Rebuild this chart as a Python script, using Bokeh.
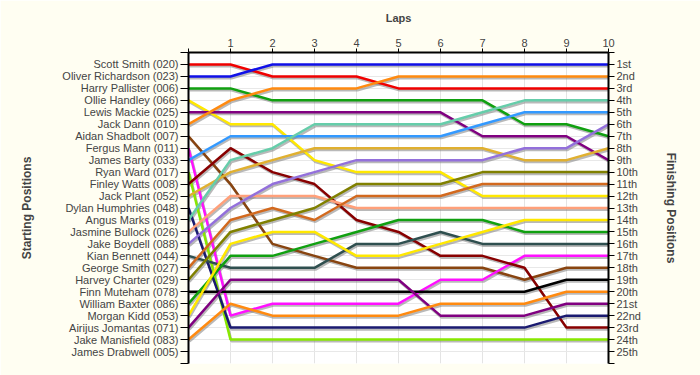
from bokeh.plotting import figure
from bokeh.models import Range1d, FixedTicker, LinearAxis
from bokeh.embed import file_html
from bokeh.resources import INLINE

laps = list(range(0, 11))
lap_labels = ["", "1", "2", "3", "4", "5", "6", "7", "8", "9", "10"]

drivers = ["Scott Smith (020)", "Oliver Richardson (023)", "Harry Pallister (006)",
           "Ollie Handley (066)", "Lewis Mackie (025)", "Jack Dann (010)",
           "Aidan Shadbolt (007)", "Fergus Mann (011)", "James Barty (033)",
           "Ryan Ward (017)", "Finley Watts (008)", "Jack Plant (052)",
           "Dylan Humphries (048)", "Angus Marks (019)", "Jasmine Bullock (026)",
           "Jake Boydell (088)", "Kian Bennett (044)", "George Smith (027)",
           "Harvey Charter (029)", "Finn Muteham (078)", "William Baxter (086)",
           "Morgan Kidd (053)", "Airijus Jomantas (071)", "Jake Manisfield (083)",
           "James Drabwell (005)"]

finish_labels = ["1st", "2nd", "3rd", "4th", "5th", "6th", "7th", "8th", "9th", "10th",
                 "11th", "12th", "13th", "14th", "15th", "16th", "17th", "18th", "19th",
                 "20th", "21st", "22nd", "23rd", "24th", "25th"]

# positions at start (lap 0) and after each lap 1..10
scott_smith       = [1, 1, 2, 2, 2, 3, 3, 3, 3, 3, 3]
oliver_richardson = [2, 2, 1, 1, 1, 1, 1, 1, 1, 1, 1]
harry_pallister   = [3, 3, 4, 4, 4, 4, 4, 4, 6, 6, 7]
ollie_handley     = [4, 6, 6, 9, 10, 10, 10, 12, 12, 12, 12]
lewis_mackie      = [5, 5, 5, 5, 5, 5, 5, 7, 7, 7, 9]
jack_dann         = [6, 4, 3, 3, 3, 2, 2, 2, 2, 2, 2]
aidan_shadbolt    = [7, 11, 16, 17, 18, 18, 18, 18, 19, 18, 18]
fergus_mann       = [8, 22, 21, 21, 21, 21, 19, 19, 17, 17, 17]
james_barty       = [9, 7, 7, 7, 7, 7, 7, 6, 5, 5, 5]
ryan_ward         = [10, 24, 24, 24, 24, 24, 24, 24, 24, 24, 24]
finley_watts      = [11, 8, 10, 11, 14, 15, 17, 17, 18, 23, 23]
jack_plant        = [12, 10, 9, 8, 8, 8, 8, 8, 9, 9, 8]
dylan_humphries   = [13, 23, 23, 23, 23, 23, 23, 23, 23, 22, 22]
angus_marks       = [14, 9, 8, 6, 6, 6, 6, 5, 4, 4, 4]
jasmine_bullock   = [15, 12, 12, 12, 13, 13, 13, 13, 13, 13, 13]
jake_boydell      = [16, 13, 11, 10, 9, 9, 9, 9, 8, 8, 6]
kian_bennett      = [17, 18, 18, 18, 16, 16, 15, 16, 16, 16, 16]
george_smith      = [18, 14, 13, 14, 12, 12, 12, 11, 11, 11, 11]
harvey_charter    = [19, 15, 14, 13, 11, 11, 11, 10, 10, 10, 10]
finn_muteham      = [20, 20, 20, 20, 20, 20, 20, 20, 20, 19, 19]
william_baxter    = [21, 17, 17, 16, 15, 14, 14, 14, 15, 15, 15]
morgan_kidd       = [22, 16, 15, 15, 17, 17, 16, 15, 14, 14, 14]
airijus_jomantas  = [23, 19, 19, 19, 19, 19, 22, 22, 22, 21, 21]
jake_manisfield   = [24, 21, 22, 22, 22, 22, 21, 21, 21, 20, 20]

series = [scott_smith, oliver_richardson, harry_pallister, ollie_handley, lewis_mackie,
          jack_dann, aidan_shadbolt, fergus_mann, james_barty, ryan_ward, finley_watts,
          jack_plant, dylan_humphries, angus_marks, jasmine_bullock, jake_boydell,
          kian_bennett, george_smith, harvey_charter, finn_muteham, william_baxter,
          morgan_kidd, airijus_jomantas, jake_manisfield]

colors = ["#f00000", "#1010e8", "#10a010", "#ffe800", "#800080", "#ff8a10",
          "#884410", "#ff10ff", "#3399ff", "#88e800", "#880000", "#e0b030",
          "#1a1a70", "#66cdaa", "#ffa07a", "#9370db", "#2f4f4f", "#d2691e",
          "#808000", "#000000", "#10a010", "#ffe800", "#800080", "#ff8a10"]

FONT = "Liberation Sans"

p = figure(width=700, height=375, x_range=Range1d(0, 10), y_range=Range1d(26, 0),
           output_backend="svg", toolbar_location=None,
           x_axis_location="above", y_axis_location="left",
           min_border_left=188, min_border_right=92, min_border_top=52, min_border_bottom=12)
p.border_fill_color = "#fffef2"
p.background_fill_color = "#ffffff"
p.outline_line_color = None

# shadows
for s in series:
    p.line([x + 0.025 for x in laps], [y + 0.15 for y in s], line_color="#808080",
           line_alpha=0.55, line_width=2.5)
for s, c in zip(series, colors):
    p.line(laps, s, line_color=c, line_width=2.5)

# top axis
xa = p.xaxis[0]
xa.ticker = FixedTicker(ticks=laps)
xa.major_label_overrides = {i: lab for i, lab in zip(laps, lap_labels)}
xa.axis_label = "Laps"
xa.axis_label_text_font = FONT
xa.axis_label_text_font_style = "bold"
xa.axis_label_text_font_size = "11px"
xa.axis_label_standoff = 12
xa.major_label_text_font = FONT
xa.major_label_text_font_size = "11px"
xa.major_label_standoff = 2
xa.major_tick_out = 4
xa.major_tick_in = 0
xa.minor_tick_out = 0
xa.minor_tick_in = 0
xa.axis_line_width = 2

ticks_y = list(range(0, 27))
ya = p.yaxis[0]
ya.ticker = FixedTicker(ticks=ticks_y)
ov = {0: "", 26: ""}
for i, name in enumerate(drivers):
    ov[i + 1] = name
ya.major_label_overrides = ov
ya.axis_label = "Starting Positions"
ya.axis_label_text_font = FONT
ya.axis_label_text_font_style = "bold"
ya.axis_label_text_font_size = "12px"
ya.axis_label_standoff = 25
ya.major_label_text_font = FONT
ya.major_label_text_font_size = "11px"
ya.major_label_standoff = 2
ya.major_tick_out = 8
ya.major_tick_in = 0
ya.minor_tick_out = 0
ya.minor_tick_in = 0
ya.axis_line_width = 2

ra = LinearAxis(ticker=FixedTicker(ticks=ticks_y))
ov2 = {0: "", 26: ""}
for i, lab in enumerate(finish_labels):
    ov2[i + 1] = lab
ra.major_label_overrides = ov2
ra.axis_label = "Finishing Positions"
ra.axis_label_text_font = FONT
ra.axis_label_text_font_style = "bold"
ra.axis_label_text_font_size = "12px"
ra.axis_label_standoff = 20
ra.major_label_text_font = FONT
ra.major_label_text_font_size = "11px"
ra.major_label_standoff = 2
ra.major_tick_out = 6
ra.major_tick_in = 0
ra.minor_tick_out = 0
ra.minor_tick_in = 0
ra.axis_line_width = 2
p.add_layout(ra, "right")

p.xgrid.grid_line_color = "#e4e4e4"
p.ygrid.grid_line_color = "#e8e8e8"

open("out.html", "w").write(file_html(p, INLINE))
